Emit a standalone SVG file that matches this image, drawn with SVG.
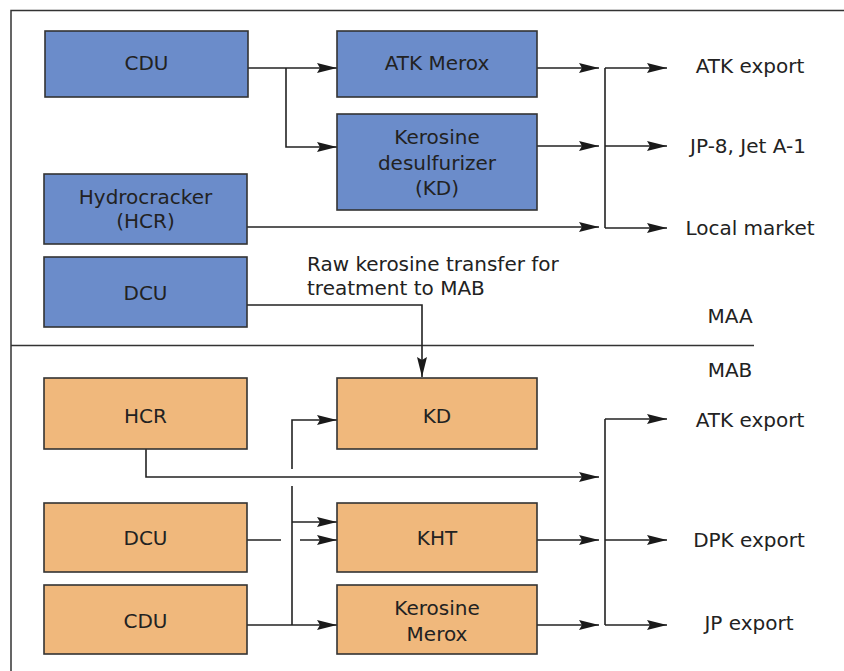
<svg xmlns="http://www.w3.org/2000/svg" width="844" height="671" viewBox="0 0 844 671">
<defs>
<marker id="arr" markerUnits="userSpaceOnUse" markerWidth="22" markerHeight="12" refX="20" refY="6" orient="auto">
<path d="M0,1 L20,6 L0,11 L3,6 Z" fill="#1a1a1a"/>
</marker>
<style>
.blue{fill:#6b8cca;stroke:#333;stroke-width:1.6}
.orange{fill:#f0b87c;stroke:#333;stroke-width:1.6}
.t{font-family:"DejaVu Sans",Verdana,sans-serif;font-size:20px;fill:#222;text-anchor:middle}
.ts{font-family:"DejaVu Sans",Verdana,sans-serif;font-size:20px;fill:#222}
.ln{fill:none;stroke:#222;stroke-width:1.6}
.a{fill:none;stroke:#222;stroke-width:1.6;marker-end:url(#arr)}
.frame{fill:none;stroke:#333;stroke-width:1.5}
</style>
</defs>
<rect width="844" height="671" fill="#fff"/>
<g id="frame">
<path class="frame" d="M11,671 V10.5 H844"/>
<line class="frame" x1="11" y1="345.5" x2="754" y2="345.5"/>
</g>
<g id="connectors">
<path class="a" d="M248,68 H337"/>
<path class="a" d="M286,68 V147 H337"/>
<path class="a" d="M537,68 H599"/>
<path class="a" d="M537,146 H599"/>
<path class="a" d="M247,227 H599"/>
<path class="ln" d="M605,68 V228"/>
<path class="a" d="M605,68 H667"/>
<path class="a" d="M605,146 H667"/>
<path class="a" d="M605,228 H667"/>
<path class="a" d="M247,305 H422 V377"/>
<path class="a" d="M146,449 V477 H599"/>
<path class="a" d="M292,469 V420 H337"/>
<path class="ln" d="M292,486 V625"/>
<path class="a" d="M292,522 H337"/>
<path class="a" d="M247,625 H337"/>
<path class="ln" d="M247,540 H281"/>
<path class="a" d="M300,540 H337"/>
<path class="a" d="M537,540 H599"/>
<path class="a" d="M537,625 H599"/>
<path class="ln" d="M605,419 V625"/>
<path class="a" d="M605,419 H667"/>
<path class="a" d="M605,540 H667"/>
<path class="a" d="M605,625 H667"/>
</g>
<g id="cdu_maa"><rect class="blue" x="45" y="31" width="203" height="66"/><text class="t" x="146.5" y="70">CDU</text></g>
<g id="atk_merox_maa"><rect class="blue" x="337" y="31" width="200" height="66"/><text class="t" x="437" y="70">ATK Merox</text></g>
<g id="kd_maa"><rect class="blue" x="337" y="114" width="200" height="96"/><text class="t" x="437" y="144">Kerosine</text><text class="t" x="437" y="170">desulfurizer</text><text class="t" x="437" y="195">(KD)</text></g>
<g id="hcr_maa"><rect class="blue" x="44" y="174" width="203" height="70"/><text class="t" x="145.5" y="204">Hydrocracker</text><text class="t" x="145.5" y="228">(HCR)</text></g>
<g id="dcu_maa"><rect class="blue" x="44" y="257" width="203" height="70"/><text class="t" x="145.5" y="300">DCU</text></g>
<g id="out_atk_maa"><text class="t" x="750" y="73">ATK export</text></g>
<g id="out_jp8"><text class="t" x="748" y="153">JP-8, Jet A-1</text></g>
<g id="out_local"><text class="t" x="750" y="235">Local market</text></g>
<g id="transfer_label"><text class="ts" x="307" y="271">Raw kerosine transfer for</text><text class="ts" x="307" y="295">treatment to MAB</text></g>
<g id="maa_label"><text class="t" x="730" y="323">MAA</text></g>
<g id="mab_label"><text class="t" x="730" y="377">MAB</text></g>
<g id="hcr_mab"><rect class="orange" x="44" y="378" width="203" height="71"/><text class="t" x="145.5" y="423">HCR</text></g>
<g id="kd_mab"><rect class="orange" x="337" y="378" width="200" height="71"/><text class="t" x="437" y="423">KD</text></g>
<g id="dcu_mab"><rect class="orange" x="44" y="503" width="203" height="69"/><text class="t" x="145.5" y="545">DCU</text></g>
<g id="kht_mab"><rect class="orange" x="337" y="503" width="200" height="69"/><text class="t" x="437" y="545">KHT</text></g>
<g id="cdu_mab"><rect class="orange" x="44" y="585" width="203" height="69"/><text class="t" x="145.5" y="628">CDU</text></g>
<g id="kmerox_mab"><rect class="orange" x="337" y="585" width="200" height="69"/><text class="t" x="437" y="615">Kerosine</text><text class="t" x="437" y="641">Merox</text></g>
<g id="out_atk_mab"><text class="t" x="750" y="427">ATK export</text></g>
<g id="out_dpk"><text class="t" x="749" y="547">DPK export</text></g>
<g id="out_jp"><text class="t" x="749" y="630">JP export</text></g>
</svg>
